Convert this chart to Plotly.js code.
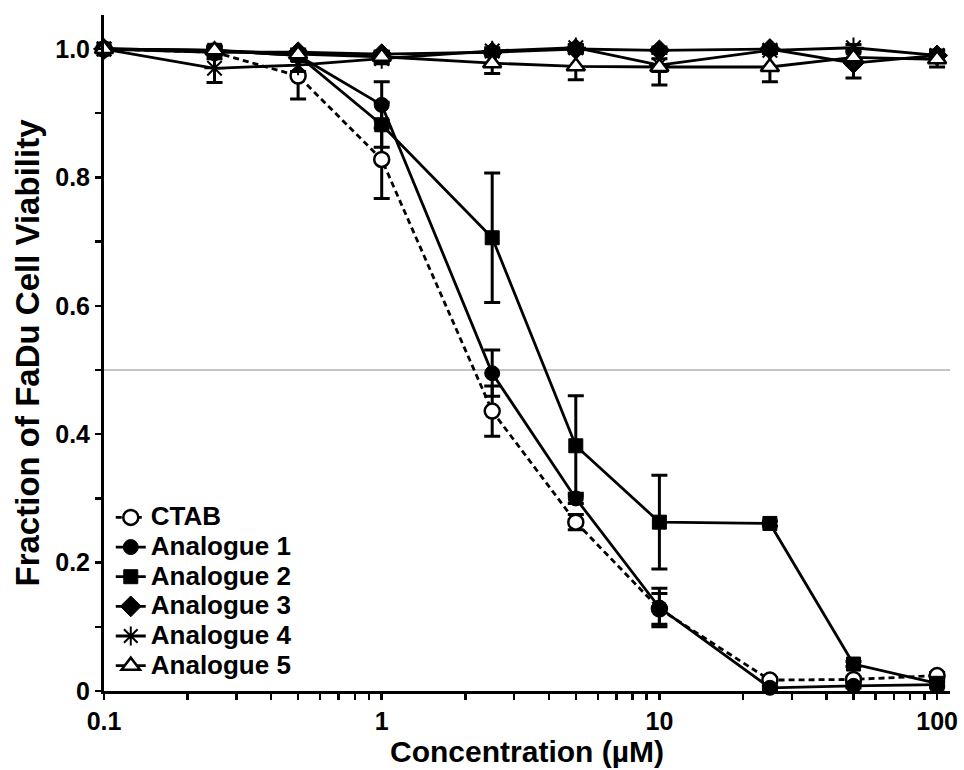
<!DOCTYPE html>
<html>
<head>
<meta charset="utf-8">
<script src="https://cdn.plot.ly/plotly-3.0.1.min.js"></script>
<style>html,body{margin:0;padding:0;background:#fff;}#chart{width:964px;height:770px;}</style>
</head>
<body>
<div id="chart"></div>
<script>
// Concentrations (µM)
const conc = [0.1, 0.25, 0.5, 1, 2.5, 5, 10, 25, 50, 100];

// Series names
const seriesNames = ["CTAB", "Analogue 1", "Analogue 2", "Analogue 3", "Analogue 4", "Analogue 5"];

// Fraction of viable cells (mean) and error
const ctab    = [1.000, 0.995, 0.958, 0.828, 0.436, 0.263, 0.128, 0.017, 0.018, 0.024];
const ctabErr = [0, 0.010, 0.036, 0.061, 0.039, 0.012, 0.024, 0.004, 0.004, 0.005];

const a1    = [1.000, 0.998, 0.990, 0.913, 0.495, 0.300, 0.130, 0.005, 0.008, 0.010];
const a1Err = [0, 0.005, 0.008, 0.036, 0.036, 0.008, 0.030, 0.003, 0.003, 0.004];

const a2    = [1.000, 0.998, 0.990, 0.882, 0.706, 0.382, 0.263, 0.261, 0.042, 0.012];
const a2Err = [0, 0.005, 0.008, 0.035, 0.101, 0.078, 0.073, 0.004, 0.004, 0.004];

const a3    = [1.000, 0.995, 0.995, 0.992, 0.995, 1.000, 0.998, 1.000, 0.978, 0.990];
const a3Err = [0, 0.005, 0.005, 0.005, 0.005, 0.005, 0.005, 0.005, 0.023, 0.008];

const a4    = [1.000, 0.970, 0.975, 0.985, 0.997, 1.002, 0.975, 0.998, 1.002, 0.990];
const a4Err = [0, 0.022, 0.010, 0.008, 0.005, 0.005, 0.010, 0.005, 0.005, 0.008];

const a5    = [1.000, 0.998, 0.992, 0.988, 0.978, 0.973, 0.972, 0.972, 0.987, 0.984];
const a5Err = [0, 0.005, 0.005, 0.008, 0.016, 0.021, 0.028, 0.023, 0.008, 0.012];

// Tick values / labels
const xTickVals = [0.1,0.2,0.3,0.4,0.5,0.6,0.7,0.8,0.9,1,2,3,4,5,6,7,8,9,10,20,30,40,50,60,70,80,90,100];
const xMajor = {0.1:"0.1", 1:"1", 10:"10", 100:"100"};
const yTickVals = [0,0.1,0.2,0.3,0.4,0.5,0.6,0.7,0.8,0.9,1.0];
const yTickText = ["0","","0.2","","0.4","","0.6","","0.8","","1.0"];
const refLevel = 0.5;

const FONT = "Liberation Sans, Arial, Helvetica, sans-serif";

const values = [ctab, a1, a2, a3, a4, a5];
const errs = [ctabErr, a1Err, a2Err, a3Err, a4Err, a5Err];
const markers = [
  {symbol:"circle", size:15, color:"#ffffff", line:{color:"#000", width:2.5}},
  {symbol:"circle", size:15, color:"#000", line:{color:"#000", width:1}},
  {symbol:"square", size:14, color:"#000", line:{color:"#000", width:1}},
  {symbol:"diamond", size:16, color:"#000", line:{color:"#000", width:1}},
  {symbol:"asterisk-open", size:17, color:"#000", line:{color:"#000", width:2}},
  {symbol:"triangle-up", size:16, color:"#ffffff", line:{color:"#000", width:2.5}}
];

const traces = seriesNames.map((name, i) => ({
  type: "scatter",
  mode: "lines+markers",
  name: '<span style="font-size:26px">' + name + '</span>',
  x: conc,
  y: values[i],
  error_y: {type:"data", array: errs[i], visible:true, color:"#000", thickness:3, width:8},
  line: {color:"#000", width:2.8, dash: i === 0 ? "6px,4px" : "solid"},
  marker: markers[i],
  cliponaxis: false
}));

const layout = {
  width: 964, height: 770,
  margin: {l:104, r:14, t:15, b:79},
  paper_bgcolor: "#fff", plot_bgcolor: "#fff",
  showlegend: true,
  legend: {
    x: 0.008, y: 0.008, xanchor: "left", yanchor: "bottom",
    bgcolor: "rgba(0,0,0,0)", borderwidth: 0,
    font: {family: FONT, size: 20.5, color:"#000", weight: "bold"},
    tracegroupgap: 0, itemwidth: 30
  },
  xaxis: {
    type: "log",
    range: [-1, 2.0465],
    showgrid: false, zeroline: false,
    showline: true, linecolor: "#000", linewidth: 3,
    ticks: "outside", ticklen: 6, tickwidth: 2.5, tickcolor: "#000",
    tickvals: xTickVals,
    ticktext: xTickVals.map(v => xMajor[v] || ""),
    tickfont: {family: FONT, size: 25, color: "#000", weight: "bold"},
    title: {text: "Concentration (µM)", font: {family: FONT, size: 30, color: "#000", weight: "bold"}, standoff: 3}
  },
  yaxis: {
    range: [0, 1.053],
    showgrid: false, zeroline: false,
    showline: true, linecolor: "#000", linewidth: 3,
    ticks: "outside", ticklen: 6, tickwidth: 2.5, tickcolor: "#000",
    tickvals: yTickVals, ticktext: yTickText,
    tickfont: {family: FONT, size: 25, color: "#000", weight: "bold"},
    title: {text: "Fraction of FaDu Cell Viability", font: {family: FONT, size: 33, color: "#000", weight: "bold"}, standoff: 6}
  },
  shapes: [{
    type: "line", xref: "paper", yref: "y", x0: 0, x1: 1, y0: refLevel, y1: refLevel,
    line: {color: "#8c8c8c", width: 1.2}, layer: "below"
  }]
};

Plotly.newPlot("chart", traces, layout, {displayModeBar: false, staticPlot: true});
</script>
</body>
</html>
